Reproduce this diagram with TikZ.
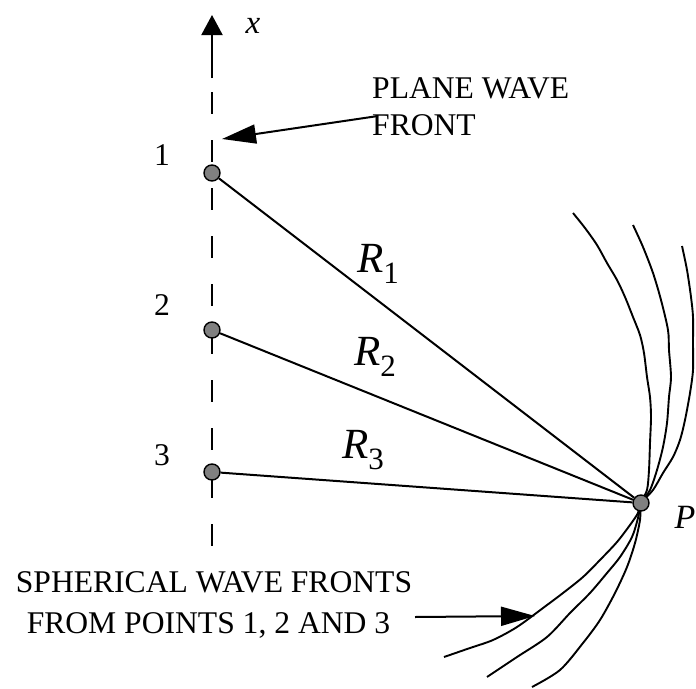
\documentclass[tikz,border=0pt]{standalone}
\usepackage{fontspec}
\setmainfont{Liberation Serif}
\usetikzlibrary{arrows.meta,positioning}

\newcommand{\Rsub}[1]{\textit{R}\raisebox{-11pt}{\fontsize{31}{31}\selectfont #1}}

\begin{document}
\begin{tikzpicture}[
  x=1pt, y=-1pt,
  every node/.style={inner sep=0pt},
  srcpt/.style={circle, draw, fill=gray, line width=1.4pt, minimum size=16pt},
  wire/.style={line width=2pt},
  front/.style={line width=1.9pt, smooth, tension=0.5},
  arr/.style={line width=2pt, -{Triangle[length=34pt, width=19pt]}},
  lbl/.style={font=\fontsize{31.6}{37}\selectfont, anchor=base},
  rlbl/.style={font=\fontsize{43}{43}\selectfont, anchor=base west}
]
\useasboundingbox (0,0) rectangle (696,688);

% axis
\coordinate (xtip) at (212,15);
\coordinate (axtop) at (212,78);
\coordinate (dashtop) at (212,92);
\coordinate (dashbot) at (212,546);
\draw[wire, -{Triangle[length=20pt, width=21pt]}] (axtop) -- (xtip);
\draw[wire, dash pattern=on 22pt off 26pt] (dashtop) -- (dashbot);
\node[anchor=base, font=\fontsize{33}{33}\selectfont] (xlab) at (253,33) {\textit{x}};

% wave fronts through P
\coordinate (Pc) at (641,503);
\draw[front] plot coordinates {(573,213) (585,228) (597,245) (607,263) (617,280) (625,297) (633,317) (640,335) (644,353) (647,377) (650,397) (651,417) (650,443) (649,470) (647,490) (Pc) (640,520) (635,543) (627,567) (615,593) (600,620) (583,643) (560,670) (532,687)};
\draw[front] plot coordinates {(633,225) (643,247) (653,273) (661,300) (668,330) (669,350) (671,377) (669,397) (667,423) (663,447) (657,470) (650,490) (Pc) (638,518) (632,537) (620,557) (607,573) (590,593) (570,613) (547,637) (517,657) (487,677)};
\draw[front] plot coordinates {(682,246) (687,270) (691,297) (693,317) (693,343) (693,370) (690,393) (685,420) (680,440) (673,457) (663,473) (653,490) (Pc) (638,513) (630,525) (617,542) (600,560) (583,577) (563,593) (543,608) (517,627) (493,640) (470,648) (444,657)};

% source points
\node[srcpt] (p1) at (212,173) {};
\node[srcpt] (p2) at (212,330) {};
\node[srcpt] (p3) at (212,472) {};
\node[srcpt] (P) at (Pc) {};
\node[lbl] (n1) at (162,165) {1};
\node[lbl] (n2) at (162,315) {2};
\node[lbl] (n3) at (162,465) {3};
\node[anchor=base, font=\fontsize{34}{34}\selectfont] (Plab) at (685,528) {\textit{P}};

\draw[wire] (p1) -- (P);
\draw[wire] (p2) -- (P);
\draw[wire] (p3) -- (P);
\node[rlbl] (r1) at (357,272) {\Rsub{1}};
\node[rlbl] (r2) at (354,365) {\Rsub{2}};
\node[rlbl] (r3) at (342,458) {\Rsub{3}};

% notes
\node[lbl, anchor=base west] (plane) at (372,98) {PLANE WAVE};
\node[lbl, anchor=base west] (planeb) at (372,135) {FRONT};
\coordinate (planetail) at (378,116);
\coordinate (planetip) at (222,139);
\draw[arr] (planetail) -- (planetip);

\node[lbl] (sph) at (214,592) {SPHERICAL WAVE FRONTS};
\node[lbl] (sphb) at (208.5,633) {FROM POINTS 1, 2 AND 3};
\coordinate (sphtail) at (415,617);
\coordinate (sphtip) at (535,616);
\draw[arr] (sphtail) -- (sphtip);

\end{tikzpicture}
\end{document}
